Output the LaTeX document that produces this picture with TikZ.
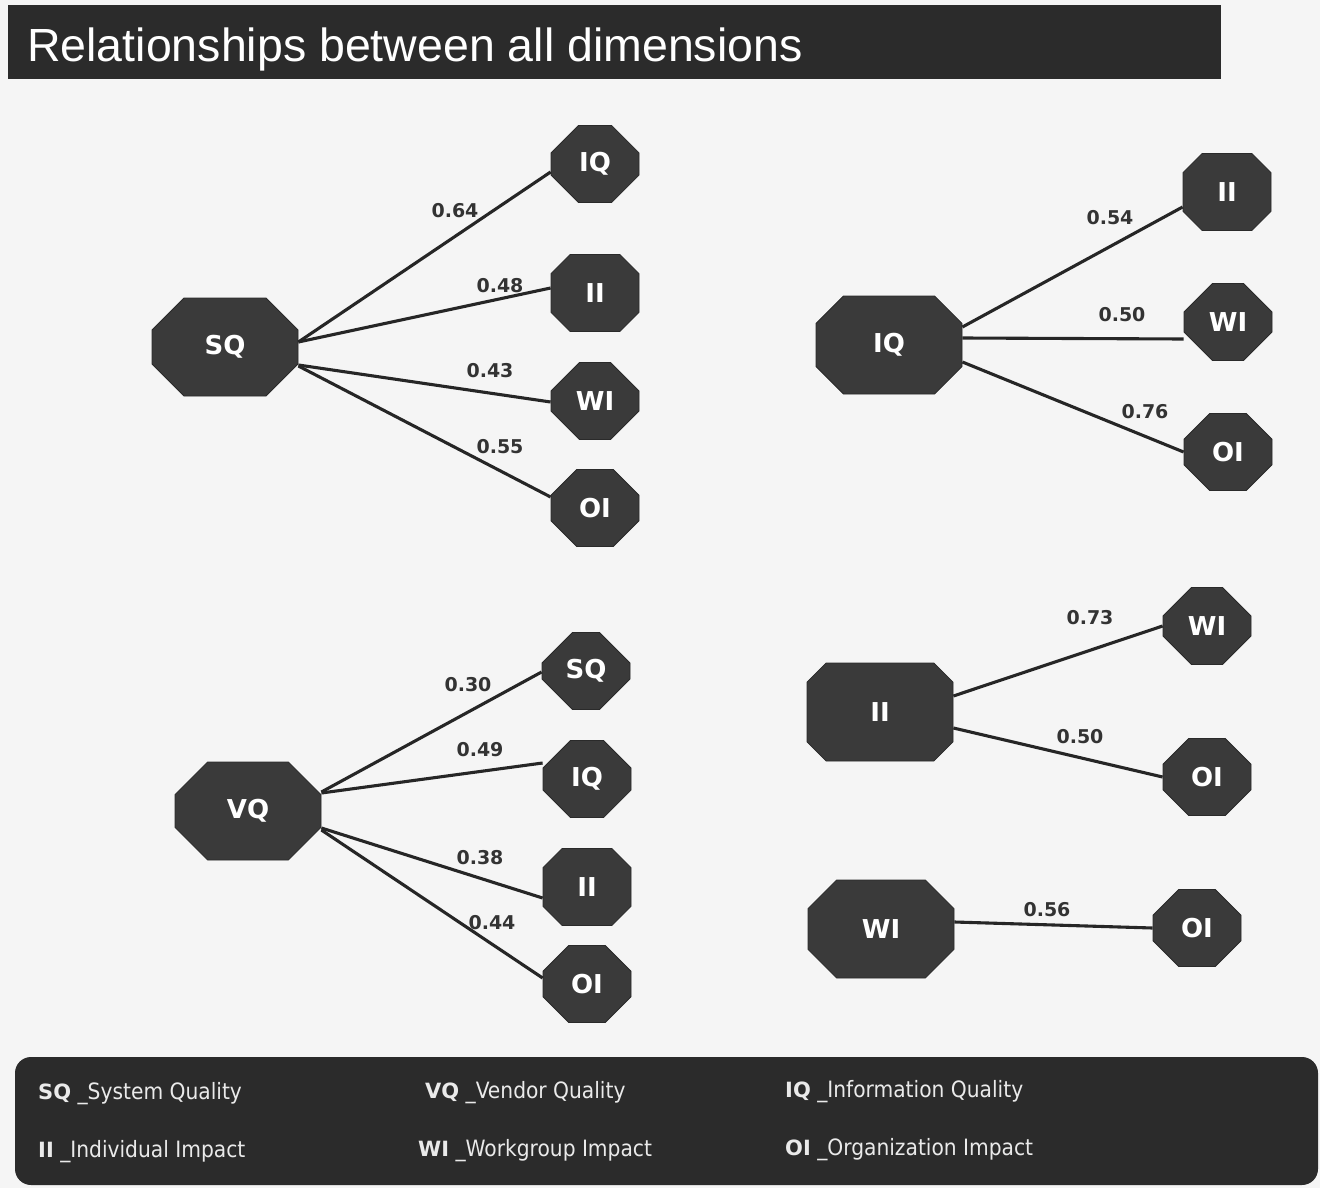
\documentclass[tikz,border=0pt]{standalone}
\usepackage{fontspec}
\setmainfont{DejaVu Sans}
\newfontfamily\titlefont{Liberation Sans}
\newfontfamily\legendfont{DejaVu Sans Condensed}
\newfontfamily\keyfont{DejaVu Sans}
\usetikzlibrary{shapes.misc}
\definecolor{pagebg}{HTML}{F5F5F5}
\definecolor{barfill}{HTML}{2B2B2B}
\definecolor{octfill}{HTML}{3A3A3A}
\definecolor{octline}{HTML}{2A2A2A}
\definecolor{linkcol}{HTML}{262626}
\definecolor{lblcol}{HTML}{333333}
\definecolor{legtext}{HTML}{EAEAEA}
\tikzset{
  oct/.style={chamfered rectangle, chamfered rectangle xsep=#1, chamfered rectangle ysep=#1,
    inner sep=0pt, fill=octfill, draw=octline, line width=0.8pt,
    text=white, font=\bfseries\fontsize{26}{26}\selectfont},
  bigoct/.style={oct=26pt, minimum width=146pt, minimum height=98pt},
  smalloct/.style={oct=19pt, minimum width=88pt, minimum height=77pt},
  link/.style={draw=linkcol, line width=3.1pt},
  lbl/.style={text=lblcol, font=\bfseries\fontsize{19}{19}\selectfont, inner sep=0pt},
  legkey/.style={anchor=base west, inner sep=0pt, text=legtext, font=\legendfont\fontsize{22.5}{22.5}\selectfont}
}
\newcommand{\abbr}[1]{{\keyfont\bfseries\fontsize{21}{21}\selectfont #1}}
\begin{document}
\begin{tikzpicture}[x=1pt,y=-1pt]
\useasboundingbox (0,0) rectangle (1320,1188);
\fill[pagebg] (0,0) rectangle (1320,1188);

% title bar
\fill[barfill] (8,5) rectangle (1221,79);
\node[anchor=base west, inner sep=0pt, text=white, font=\titlefont\fontsize{46.5}{46.5}\selectfont] (title) at (27,62) {Relationships between all dimensions};

% group 1: SQ
\node[bigoct] (sq1) at (225,347) {SQ};
\node[smalloct] (iq1) at (595,164) {IQ};
\node[smalloct] (ii1) at (595,293) {II};
\node[smalloct] (wi1) at (595,401) {WI};
\node[smalloct] (oi1) at (595,508) {OI};
\draw[link] ([yshift=5pt]sq1.east) -- ([yshift=-8pt]iq1.west);
\draw[link] ([yshift=5pt]sq1.east) -- ([yshift=5pt]ii1.west);
\draw[link] ([yshift=-18pt]sq1.east) -- ([yshift=-1pt]wi1.west);
\draw[link] ([yshift=-19pt]sq1.east) -- ([yshift=11pt]oi1.west);
\node[lbl] (l11) at (455,211) {0.64};
\node[lbl] (l12) at (500,286) {0.48};
\node[lbl] (l13) at (490,371) {0.43};
\node[lbl] (l14) at (500,447) {0.55};

% group 2: IQ
\node[bigoct] (iq2) at (889,345) {IQ};
\node[smalloct] (ii2) at (1227,192) {II};
\node[smalloct] (wi2) at (1228,322) {WI};
\node[smalloct] (oi2) at (1228,452) {OI};
\draw[link] ([yshift=18pt]iq2.east) -- ([yshift=-15pt]ii2.west);
\draw[link] ([yshift=7pt]iq2.east) -- ([yshift=-17pt]wi2.west);
\draw[link] ([yshift=-17pt]iq2.east) -- (oi2.west);
\node[lbl] (l21) at (1110,218) {0.54};
\node[lbl] (l22) at (1122,315) {0.50};
\node[lbl] (l23) at (1145,412) {0.76};

% group 3: VQ
\node[bigoct] (vq3) at (248,811) {VQ};
\node[smalloct] (sq3) at (586,671) {SQ};
\node[smalloct] (iq3) at (587,779) {IQ};
\node[smalloct] (ii3) at (587,887) {II};
\node[smalloct] (oi3) at (587,984) {OI};
\draw[link] ([yshift=19pt]vq3.east) -- ([yshift=-1pt]sq3.west);
\draw[link] ([yshift=18pt]vq3.east) -- ([yshift=16pt]iq3.west);
\draw[link] ([yshift=-17pt]vq3.east) -- ([yshift=-11pt]ii3.west);
\draw[link] ([yshift=-19pt]vq3.east) -- ([yshift=6pt]oi3.west);
\node[lbl] (l31) at (468,685) {0.30};
\node[lbl] (l32) at (480,750) {0.49};
\node[lbl] (l33) at (480,858) {0.38};
\node[lbl] (l34) at (492,923) {0.44};

% group 4: II
\node[bigoct] (ii4) at (880,712) {II};
\node[smalloct] (wi4) at (1207,626) {WI};
\node[smalloct] (oi4) at (1207,777) {OI};
\draw[link] ([yshift=16pt]ii4.east) -- (wi4.west);
\draw[link] ([yshift=-16pt]ii4.east) -- (oi4.west);
\node[lbl] (l41) at (1090,618) {0.73};
\node[lbl] (l42) at (1080,737) {0.50};

% group 5: WI
\node[bigoct] (wi5) at (881,929) {WI};
\node[smalloct] (oi5) at (1197,928) {OI};
\draw[link] ([yshift=7pt]wi5.east) -- (oi5.west);
\node[lbl] (l51) at (1047,910) {0.56};

% legend
\fill[barfill, rounded corners=16pt] (15,1057) rectangle (1318,1185);
\node[legkey] (k1) at (38,1099) {\abbr{SQ} \_System Quality};
\node[legkey] (k2) at (425,1098) {\abbr{VQ} \_Vendor Quality};
\node[legkey] (k3) at (785,1097) {\abbr{IQ} \_Information Quality};
\node[legkey] (k4) at (38,1157) {\abbr{II} \_Individual Impact};
\node[legkey] (k5) at (418,1156) {\abbr{WI} \_Workgroup Impact};
\node[legkey] (k6) at (785,1155) {\abbr{OI} \_Organization Impact};
\end{tikzpicture}
\end{document}
